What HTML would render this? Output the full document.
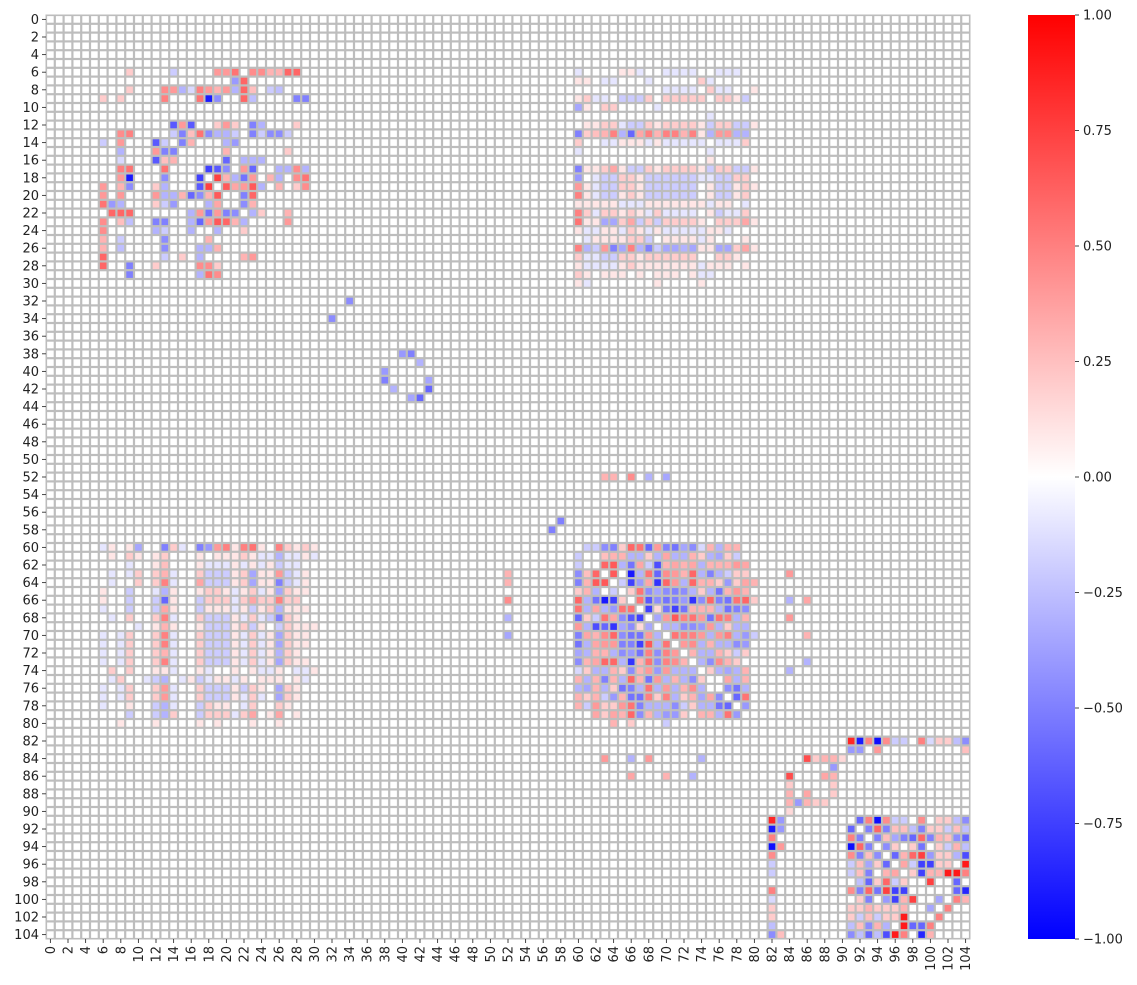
<!DOCTYPE html>
<html><head><meta charset="utf-8"><style>
html,body{margin:0;padding:0;background:#fff;}
svg{display:block;font-family:"DejaVu Sans","Liberation Sans",sans-serif;}
</style></head><body>
<svg id="chart" width="1137" height="985" viewBox="0 0 1137 985" xmlns="http://www.w3.org/2000/svg">
<defs><linearGradient id="cbg" x1="0" y1="1" x2="0" y2="0">
<stop offset="0" stop-color="#0000ff"/><stop offset="0.5" stop-color="#ffffff"/><stop offset="1" stop-color="#ff0000"/></linearGradient></defs>
<g id="cells"></g>
<g id="yaxis"></g>
<g id="xaxis"></g>
<g id="cbar"></g>
</svg>
<script>
const nVars = 105;
const colorTicks = [1.0, 0.75, 0.5, 0.25, 0.0, -0.25, -0.5, -0.75, -1.0];
const colorTickLabels = ["1.00","0.75","0.50","0.25","0.00","\u22120.25","\u22120.50","\u22120.75","\u22121.00"];
// faint texture, rows 60..80, cols 6..30; code chars: . 0, 1 0.1, 2 0.2, 3 0.35, 4 0.5, a -0.1, b -0.2, c -0.35, d -0.5
const faintRowStart = 60;
const faintColStart = 6;
const faintTexture = [
"a1.1c..d2a.d3331c41.42121",
".1.21.12...1.11121aabaa1a",
"...a..12...1aaa1a1a1baa..",
".a.a2.24a..2bbb12c11cba1.",
".a..2.24a..3bbb12c11dba1.",
"1..b..ac1..1221a12a12211.",
"1..b..bd1..b222a2322422..",
"a..b..bd1..b111a1b123111.",
".a.2..24a..2bbb1a2abd21..",
"....a.1c1..1bbb12b1.b2111",
"a.a2..24a..2bbb1a2a1c211.",
"a.a2..24a..2bbb1a2a1c211.",
"a.a2..23a..2bbb1a2a1d21..",
"a.a2..24a..2bbb1a2a1c211.",
".2.2..11a..1a..1.1aa1.aa1",
".a2..ab..a1ba11a1.111.1a.",
"a.a2..23a..2bbb1b21.c21..",
"a.a2..24a..2bbb1a2a.c21..",
"a..1..bca..b211.a2..21...",
"...b..bc2..b222a23.13 1..",
"..1...1....1.1...1..1...."
];
const faintLevels = {".":0,"1":0.1,"2":0.2,"3":0.35,"4":0.5,"a":-0.1,"b":-0.2,"c":-0.35,"d":-0.5};
// [row, col, value] entries (matrix is symmetric; unlisted cells ~0)
const upperLeftBlock = [
[6,9,0.2],[6,19,0.3],[6,21,0.45],[6,23,0.4],[6,24,0.45],[6,25,0.2],[6,28,0.6],
[8,14,0.3],[8,15,-0.3],[8,16,-0.15],[8,18,0.4],[8,21,-0.5],[8,22,0.55],[8,23,0.4],
[9,6,0.2],[9,8,0.2],[9,13,0.5],[9,17,0.55],[9,18,-0.9],[9,19,-0.45],[9,22,0.6],[9,23,-0.25],[9,29,-0.5],
[12,14,-0.7],[12,15,0.5],[12,16,-0.75],[12,19,0.2],[12,20,0.35],[12,21,0.2],
[13,8,0.45],[13,14,-0.2],[13,17,0.55],[13,18,-0.45],[13,19,-0.3],[13,20,-0.35],[13,21,0.2],[13,23,-0.5],[13,24,-0.2],[13,26,-0.45],[13,27,-0.2],
[14,6,-0.2],[14,8,0.4],[14,12,-0.65],[14,15,-0.5],[14,16,0.35],
[15,8,-0.3],[15,12,0.4],[15,13,-0.5],
[16,12,-0.65],[16,13,0.25],[16,14,0.3],[16,20,-0.6],[16,22,-0.3],[16,24,0.25],
[17,8,0.5],[17,13,0.55],[17,18,-0.7],[17,19,-0.55],[17,20,-0.45],[17,22,0.4],[17,23,-0.55],[17,26,-0.3],[17,27,-0.3],[17,29,-0.3],
[18,9,-0.9],[18,13,-0.45],[18,17,-0.75],[18,19,0.75],[18,20,0.35],[18,21,0.35],[18,22,-0.6],[18,23,0.4],[18,25,0.3],[18,29,0.55],
[19,6,0.4],[19,8,0.3],[19,9,-0.45],[19,17,-0.65],[19,18,0.75],[19,20,0.6],[19,21,0.35],[19,22,-0.3],[19,23,0.75],[19,24,-0.3],[19,26,0.3],[19,28,0.3],[19,29,0.45],
[20,6,0.4],[20,8,0.4],[20,12,0.4],[20,13,-0.3],[20,14,-0.3],[20,15,0.3],[20,16,-0.6],[20,17,-0.45],[20,18,0.3],[20,19,0.65],[20,22,0.3],[20,23,0.6],
[21,6,0.55],[21,7,-0.4],[21,8,-0.3],[21,13,-0.2],[21,14,-0.4],[21,18,-0.3],[21,22,-0.45],
[22,7,0.6],[22,8,0.6],[22,16,-0.3],[22,17,0.4],[22,18,-0.55],[22,19,0.4],[22,20,-0.5],[22,23,-0.3],[22,24,0.2],
[23,6,0.45],[23,8,0.25],[23,12,-0.5],[23,16,-0.3],[23,17,-0.6],[23,19,0.65],[23,20,0.6],[23,21,0.3],
[24,6,0.45],[24,12,-0.3],[24,16,-0.3],
[25,6,0.3],[25,8,-0.2],[25,13,-0.45],
[26,6,0.3],[26,8,-0.25],[26,13,-0.45],[26,17,-0.3],[26,18,-0.3],
[27,6,0.6],[27,15,0.2],[27,22,0.3],[27,23,0.4],
[28,9,-0.5],[28,12,0.2],[28,17,0.45],[28,18,0.45],[28,19,0.2],
[32,34,-0.5],[34,32,-0.45],[38,41,-0.5],[40,38,-0.4],[39,42,-0.3],[43,42,-0.6],[41,43,-0.35],[57,58,-0.5]
];
const crossBands = [
[60,13,-0.55],[60,17,-0.5],[60,18,0.3],[60,19,0.4],[60,20,0.3],[60,23,0.55],[60,26,0.4],
[13,60,-0.5],[18,60,-0.4],[20,60,0.5],[22,60,0.5],[26,60,0.5],
[62,13,0.25],[63,13,0.5],[64,13,0.5],[65,13,-0.3],[66,13,-0.6],[67,13,-0.5],[68,13,0.5],[69,13,-0.4],[70,13,0.5],[71,13,0.5],[72,13,0.4],[73,13,0.5],[75,13,-0.3],[76,13,0.4],[77,13,0.4],[78,13,-0.3],[79,13,-0.3],
[66,52,0.5],[68,52,-0.3],[64,52,0.3],[70,52,-0.3],
[26,61,-0.3],[26,63,0.4],[26,65,-0.35],[26,67,-0.3],[26,70,-0.35],[26,72,-0.3],[13,63,0.3],[13,65,-0.3],[13,67,0.35],[13,69,0.3],[13,72,0.3],
[52,63,0.3],[52,66,0.45],[52,68,-0.3],[52,70,-0.35],
[84,63,0.4],[84,66,-0.3],[84,68,0.4],[84,74,-0.3],[86,66,0.35],[86,70,0.3],[86,73,-0.3],[63,84,0.4],[66,84,-0.3]
];
const middleBlock = [
[60,62,-0.2],[60,63,-0.45],[60,64,-0.5],[60,65,0.2],[60,66,0.6],[60,67,0.55],[60,68,-0.6],[60,69,0.4],[60,70,-0.5],[60,71,-0.55],[60,72,-0.35],[60,73,-0.45],[60,74,-0.15],[60,75,0.3],[60,76,-0.3],[60,77,0.3],[60,78,0.3],
[62,63,0.6],[62,64,0.6],[62,65,0.6],[62,66,-0.45],[62,67,0.2],[62,68,-0.2],[62,69,-0.75],[62,70,-0.2],[62,72,0.35],[62,73,0.4],[62,74,-0.3],[62,75,-0.2],
[63,61,0.25],[63,62,0.6],[63,64,0.65],[63,66,-0.9],[63,67,-0.2],[63,68,0.55],[63,69,-0.55],[63,70,0.4],[63,71,0.4],[63,72,0.6],[63,73,0.55],[63,74,-0.2],[63,75,-0.4],[63,76,0.5],[63,77,-0.2],[63,78,0.2],
[64,61,0.3],[64,62,0.65],[64,63,0.65],[64,66,-0.65],[64,67,0.2],[64,68,-0.2],[64,69,-0.8],[64,70,0.6],[64,71,0.55],[64,72,0.55],[64,73,0.5],[64,75,0.3],[64,76,-0.35],[64,77,0.3],
[65,61,0.3],[65,62,-0.3],[65,64,-0.2],[65,66,0.2],[65,67,0.6],[65,68,-0.5],[65,69,-0.5],[65,70,-0.4],[65,71,-0.35],[65,72,-0.35],[65,73,-0.5],[65,74,0.2],[65,75,-0.35],[65,76,-0.45],[65,77,0.4],[65,78,0.45],[65,79,0.45],
[66,61,-0.3],[66,62,-0.55],[66,63,-0.9],[66,64,-0.75],[66,65,0.2],[66,67,0.35],[66,68,-0.75],[66,69,0.45],[66,70,-0.55],[66,71,-0.6],[66,72,-0.35],[66,73,-0.85],[66,75,0.6],[66,76,-0.45],[66,77,-0.3],[66,78,0.2],
[67,61,-0.3],[67,62,0.35],[67,63,-0.3],[67,64,-0.4],[67,65,0.55],[67,66,0.55],[67,68,-0.6],[67,69,0.2],[67,70,-0.7],[67,71,-0.85],[67,72,0.3],[67,73,-0.4],[67,74,-0.3],[67,75,-0.6],[67,76,-0.7],[67,77,0.6],[67,78,0.6],[67,79,0.2],
[68,61,0.2],[68,62,-0.2],[68,63,0.55],[68,64,0.35],[68,65,-0.45],[68,66,-0.65],[68,67,-0.75],[68,69,-0.35],[68,70,0.4],[68,71,0.65],[68,72,-0.3],[68,73,0.4],[68,74,0.3],[68,75,-0.3],[68,76,0.45],[68,77,0.4],[68,78,0.3],
[69,61,-0.3],[69,62,-0.7],[69,63,-0.6],[69,64,-0.8],[69,65,-0.35],[69,66,-0.45],[69,67,0.15],[69,68,-0.35],[69,70,-0.35],[69,71,-0.3],[69,72,0.4],[69,73,-0.3],[69,74,-0.3],[69,75,0.4],[69,76,-0.3],[69,77,0.2],
[70,61,0.35],[70,62,0.3],[70,63,0.45],[70,64,0.6],[70,65,-0.45],[70,66,-0.55],[70,67,-0.55],[70,68,0.4],[70,69,-0.3],[70,71,0.6],[70,72,0.5],[70,73,0.45],[70,74,0.35],[70,75,-0.35],[70,76,0.45],[70,77,-0.35],[70,78,-0.3],
[71,61,-0.3],[71,62,0.35],[71,63,0.4],[71,64,0.4],[71,65,-0.5],[71,66,-0.5],[71,67,-0.75],[71,68,0.65],[71,69,-0.3],[71,70,0.55],[71,72,0.45],[71,73,0.4],[71,74,-0.3],[71,75,0.4],[71,76,0.35],[71,77,-0.35],
[72,61,-0.3],[72,62,0.3],[72,63,0.3],[72,64,-0.3],[72,65,-0.45],[72,66,-0.4],[72,67,-0.55],[72,68,0.5],[72,69,-0.45],[72,70,0.5],[72,71,0.4],[72,73,0.3],[72,74,-0.3],[72,75,0.3],[72,76,-0.3],[72,77,-0.3],
[73,61,0.3],[73,62,0.35],[73,63,0.6],[73,64,0.6],[73,65,-0.3],[73,66,-0.8],[73,67,0.3],[73,68,0.55],[73,69,-0.45],[73,70,0.5],[73,71,0.45],[73,72,0.3],[73,74,-0.3],[73,75,0.45],[73,76,-0.3],[73,77,-0.3],
[74,61,0.2],[74,62,-0.3],[74,63,-0.3],[74,64,0.3],[74,65,0.2],[74,66,-0.45],[74,67,0.3],[74,68,0.4],[74,69,-0.4],[74,70,0.4],[74,71,-0.3],[74,72,-0.3],[74,73,-0.3],[74,75,-0.3],[74,76,0.3],
[75,61,-0.3],[75,62,0.3],[75,63,-0.5],[75,64,0.3],[75,65,-0.3],[75,66,0.6],[75,67,0.3],[75,68,-0.55],[75,69,0.4],[75,70,-0.3],[75,71,0.3],[75,72,-0.3],[75,73,-0.45],[75,74,0.2],
[76,61,-0.35],[76,62,0.3],[76,63,-0.3],[76,64,0.2],[76,65,-0.55],[76,66,-0.5],[76,67,-0.3],[76,68,0.55],[76,69,-0.3],[76,70,0.4],[76,71,-0.3],[76,72,0.3],[76,73,0.45],[76,74,-0.3],
[77,61,0.2],[77,62,0.3],[77,63,-0.2],[77,64,-0.4],[77,65,0.3],[77,66,-0.55],[77,67,-0.55],[77,68,0.5],[77,69,0.2],[77,70,0.5],[77,71,-0.3],[77,72,0.2],[77,73,0.3],[77,74,-0.35],[77,75,0.35],[77,76,-0.45],[77,78,-0.6],[77,79,-0.5],
[78,61,-0.2],[78,62,0.4],[78,63,0.2],[78,64,0.2],[78,65,0.4],[78,66,0.55],[78,67,-0.5],[78,68,-0.3],[78,69,-0.3],[78,70,-0.3],[78,71,-0.45],[78,72,-0.2],[78,73,0.2],[78,74,-0.3],[78,75,-0.3],[78,76,-0.55],[78,79,-0.5],
[79,62,0.35],[79,63,0.2],[79,64,0.35],[79,65,0.3],[79,66,0.6],[79,67,-0.45],[79,68,0.3],[79,69,-0.3],[79,70,-0.4],[79,71,-0.4],[79,72,0.2],[79,74,0.3],[79,75,0.3],[79,76,-0.3],[79,77,0.55],[79,78,-0.4],
[80,64,0.3],[80,66,0.2],[80,70,-0.2],
[61,60,-0.2],[60,61,-0.2]
];
const lowerRightBlock = [
[82,91,0.85],[82,92,-0.9],[82,93,0.5],[82,94,-0.95],[82,95,0.45],[82,96,-0.2],[82,97,-0.2],[82,99,0.5],[82,100,-0.15],[82,101,0.2],[82,102,0.2],[82,103,-0.25],[82,104,-0.45],
[83,91,-0.4],[83,92,-0.4],[83,94,0.4],[83,104,0.25],
[84,86,0.7],[84,87,0.2],[84,88,0.35],[84,89,0.3],[84,90,0.15],[85,89,-0.4],
[86,88,0.35],[86,89,0.3],[87,84,0.2],[88,84,0.3],[88,86,0.35],[89,84,0.3],[89,85,-0.4],[89,86,0.3],[89,87,0.2],[89,88,0.2],
[91,92,-0.6],[91,93,0.5],[91,94,-0.95],[91,95,0.45],[91,96,-0.2],[91,97,-0.2],[91,99,0.45],[91,101,0.2],[91,102,0.2],[91,103,-0.25],[91,104,-0.45],
[92,93,-0.5],[92,94,0.6],[92,95,-0.5],[92,96,0.25],[92,97,0.25],[92,98,-0.25],[92,99,-0.5],[92,100,0.2],[92,101,0.2],[92,102,-0.2],[92,103,0.25],[92,104,-0.25],
[93,94,-0.5],[93,95,0.25],[93,96,-0.35],[93,97,-0.5],[93,98,-0.6],[93,99,0.6],[93,100,-0.5],[93,101,0.3],[93,102,0.25],[93,103,-0.45],[93,104,-0.6],
[94,95,-0.45],[94,96,0.2],[94,98,0.2],[94,99,-0.55],[94,101,0.2],[94,102,-0.2],[94,103,0.3],[94,104,-0.25],
[95,96,-0.6],[95,97,0.3],[95,98,0.6],[95,99,0.75],[95,100,-0.4],[95,101,0.2],[95,102,0.2],[95,103,-0.3],[95,104,-0.7],
[96,97,0.35],[96,98,-0.2],[96,99,-0.75],[96,100,-0.75],[96,101,0.2],[96,102,0.2],[96,104,0.85],
[97,98,0.2],[97,99,-0.75],[97,100,0.3],[97,101,0.3],[97,102,0.9],[97,103,0.45],
[98,100,0.75],[99,103,-0.65],[99,104,-0.85],[100,101,-0.35],[101,102,0.5],
[103,97,0.9],[103,98,-0.6],[103,99,-0.6],[103,100,0.5],[104,96,0.9],[104,97,0.5],[104,99,-0.85],[104,100,0.3]
];

const svgNS = "http://www.w3.org/2000/svg";
const x0 = 46, y0 = 15, plotW = 924, plotH = 924;
const cw = plotW / nVars, ch = plotH / nVars;
function xPos(c){ return x0 + c * cw; }
function yPos(r){ return y0 + r * ch; }
function colorOf(v){
  v = Math.max(-1, Math.min(1, v));
  let r, g, b;
  if (v < 0){ r = g = Math.round(255 * (1 + v)); b = 255; }
  else { r = 255; g = b = Math.round(255 * (1 - v)); }
  return "rgb(" + r + "," + g + "," + b + ")";
}
const matrix = [];
for (let i = 0; i < nVars; i++){ matrix.push(new Array(nVars).fill(0)); }
faintTexture.forEach((s, k) => {
  const r = faintRowStart + k;
  for (let j = 0; j < s.length; j++){
    const v = faintLevels[s[j]];
    if (v === undefined) continue;
    const c = faintColStart + j;
    if (c >= nVars) break;
    matrix[r][c] = v; matrix[c][r] = v;
  }
});
[upperLeftBlock, crossBands, middleBlock, lowerRightBlock].forEach(list => {
  list.forEach(e => { matrix[e[0]][e[1]] = e[2]; matrix[e[1]][e[0]] = e[2]; });
});

const cells = document.getElementById("cells");
const bg = document.createElementNS(svgNS, "rect");
bg.setAttribute("x", x0 - 0.5); bg.setAttribute("y", y0 - 0.5);
bg.setAttribute("width", plotW + 1); bg.setAttribute("height", plotH + 1);
bg.setAttribute("fill", "#bdbdbd");


cells.appendChild(bg);
const gap = 1.1;
for (let r = 0; r < nVars; r++){
  for (let c = 0; c < nVars; c++){
    const rect = document.createElementNS(svgNS, "rect");
    rect.setAttribute("x", (xPos(c) + gap).toFixed(2));
    rect.setAttribute("y", (yPos(r) + gap).toFixed(2));
    rect.setAttribute("width", (cw - 2 * gap).toFixed(2));
    rect.setAttribute("height", (ch - 2 * gap).toFixed(2));
    rect.setAttribute("fill", colorOf(matrix[r][c]));
    
    
    cells.appendChild(rect);
  }
}

const yaxis = document.getElementById("yaxis");
const xaxis = document.getElementById("xaxis");
for (let i = 0; i < nVars; i++){
  const yc = yPos(i + 0.5), xc = xPos(i + 0.5);
  if (i % 2 !== 0) continue;
  const tl = document.createElementNS(svgNS, "line");
  tl.setAttribute("x1", x0 - 4); tl.setAttribute("x2", x0); tl.setAttribute("y1", yc); tl.setAttribute("y2", yc);
  tl.setAttribute("stroke", "#333"); tl.setAttribute("stroke-width", "0.9");
  
  
  yaxis.appendChild(tl);
  const xl = document.createElementNS(svgNS, "line");
  xl.setAttribute("x1", xc); xl.setAttribute("x2", xc); xl.setAttribute("y1", y0 + plotH); xl.setAttribute("y2", y0 + plotH + 4);
  xl.setAttribute("stroke", "#333"); xl.setAttribute("stroke-width", "0.9");
  
  
  xaxis.appendChild(xl);
  const yt = document.createElementNS(svgNS, "text");
  yt.setAttribute("x", x0 - 7); yt.setAttribute("y", yc + 4.5);
  yt.setAttribute("text-anchor", "end"); yt.setAttribute("font-size", "13"); yt.setAttribute("fill", "#222");
  yt.textContent = String(i);
  
  
  yaxis.appendChild(yt);
  const xt = document.createElementNS(svgNS, "text");
  const ty = y0 + plotH + 7;
  xt.setAttribute("x", xc + 4.5); xt.setAttribute("y", ty);
  xt.setAttribute("text-anchor", "end"); xt.setAttribute("font-size", "13"); xt.setAttribute("fill", "#222");
  xt.setAttribute("transform", "rotate(-90 " + (xc + 4.5) + " " + ty + ")");
  xt.textContent = String(i);
  
  
  xaxis.appendChild(xt);
}

const cbar = document.getElementById("cbar");
const cbX = 1028, cbW = 47, cbTop = 15, cbH = 924;
const cbRect = document.createElementNS(svgNS, "rect");
cbRect.setAttribute("x", cbX); cbRect.setAttribute("y", cbTop);
cbRect.setAttribute("width", cbW); cbRect.setAttribute("height", cbH);
cbRect.setAttribute("fill", "url(#cbg)");


cbar.appendChild(cbRect);
function cbY(v){ return cbTop + (1 - v) / 2 * cbH; }
colorTicks.forEach((v, k) => {
  const y = cbY(v);
  const t = document.createElementNS(svgNS, "line");
  t.setAttribute("x1", cbX + cbW); t.setAttribute("x2", cbX + cbW + 4);
  t.setAttribute("y1", y); t.setAttribute("y2", y);
  t.setAttribute("stroke", "#333"); t.setAttribute("stroke-width", "0.9");
  
  
  cbar.appendChild(t);
  const lbl = document.createElementNS(svgNS, "text");
  lbl.setAttribute("x", cbX + cbW + 8); lbl.setAttribute("y", y + 4.5);
  lbl.setAttribute("font-size", "13"); lbl.setAttribute("fill", "#222");
  lbl.textContent = colorTickLabels[k];
  
  
  cbar.appendChild(lbl);
});
</script>
</body></html>
